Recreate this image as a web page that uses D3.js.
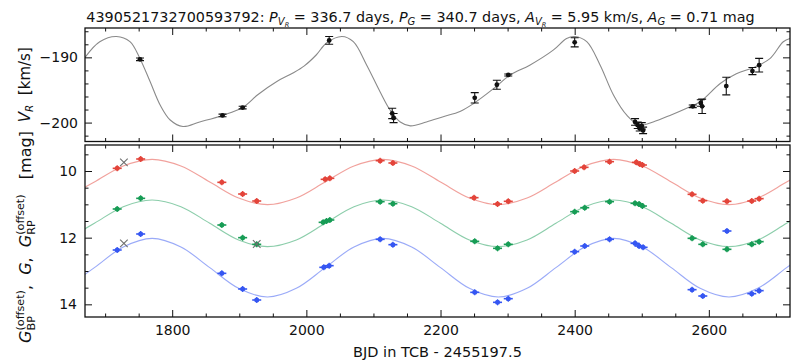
<!DOCTYPE html>
<html>
<head>
<meta charset="utf-8">
<script src="https://cdn.jsdelivr.net/npm/d3@7"></script>
<style>
  html, body { margin: 0; padding: 0; background: #fff; }
  svg { display: block; font-family: "DejaVu Sans", sans-serif; }
  text { white-space: pre; fill: #111; }
</style>
</head>
<body>
<svg id="chart" width="791" height="363"></svg>
<script>
// ---- Radial velocity epochs (BJD in TCB - 2455197.5), values and errors [km/s]
const vrTime = [1752, 1875, 1905, 2034, 2128, 2130, 2251, 2284, 2301, 2400, 2490, 2494, 2497, 2500, 2502, 2576, 2588, 2590, 2626, 2665, 2675];
const vrValue = [-190.3, -198.9, -197.7, -187.4, -198.6, -199.3, -196.2, -194.2, -192.7, -187.7, -199.9, -200.4, -200.9, -200.5, -201.2, -197.5, -197.0, -197.5, -194.4, -192.1, -191.2];
const vrError = [0.2, 0.2, 0.2, 0.6, 0.8, 0.7, 0.8, 0.7, 0.15, 0.7, 0.5, 0.5, 0.4, 0.5, 0.5, 0.2, 0.5, 1.1, 1.35, 0.55, 1.05];

// ---- Radial velocity model curve
const vrModelTime = [1670, 1692, 1717, 1737, 1752, 1767, 1782, 1797, 1816, 1841, 1875, 1905, 1928, 1956, 1980, 1997, 2015, 2030, 2053, 2070, 2090, 2110, 2125, 2140, 2155, 2179, 2204, 2229, 2249, 2279, 2304, 2333, 2368, 2388, 2400, 2418, 2438, 2458, 2478, 2497, 2517, 2542, 2567, 2587, 2617, 2641, 2666, 2691, 2711, 2721];
const vrModelValue = [-190.0, -187.6, -186.8, -187.6, -190.2, -193.7, -197.3, -199.6, -200.6, -199.9, -198.9, -197.7, -195.7, -193.7, -192.4, -191.3, -189.6, -187.8, -186.8, -187.6, -191.2, -195.3, -198.1, -199.9, -200.5, -199.9, -199.1, -198.3, -197.1, -194.8, -192.7, -191.2, -188.9, -187.1, -186.8, -187.6, -191.2, -195.8, -198.9, -200.4, -199.9, -198.9, -197.8, -196.8, -194.0, -192.5, -191.6, -190.2, -187.6, -187.1];

// ---- Photometry epochs and magnitudes (offset bands)
const rpTime = [1718, 1753, 1874, 1905, 1926, 2028, 2035, 2110, 2129, 2250, 2285, 2301, 2400, 2414, 2452, 2492, 2497, 2501, 2575, 2591, 2627, 2664, 2675];
const rpMag = [9.92, 9.64, 10.34, 10.69, 10.90, 10.25, 10.22, 9.69, 9.76, 10.80, 10.99, 10.91, 10.00, 9.89, 9.72, 9.74, 9.79, 9.82, 10.70, 10.89, 10.91, 10.90, 10.83];
const gTime = [1718, 1753, 1874, 1905, 1926, 2025, 2030, 2035, 2110, 2129, 2251, 2285, 2301, 2400, 2415, 2452, 2490, 2496, 2501, 2575, 2591, 2627, 2664, 2675];
const gMag = [11.14, 10.82, 11.62, 12.00, 12.20, 11.54, 11.50, 11.47, 10.92, 10.98, 12.11, 12.32, 12.20, 11.22, 11.10, 10.92, 10.97, 10.99, 11.05, 12.02, 12.20, 12.35, 12.20, 12.12];
const bpTime = [1718, 1753, 1874, 1905, 1926, 2026, 2034, 2110, 2129, 2251, 2285, 2301, 2400, 2415, 2452, 2490, 2496, 2502, 2575, 2591, 2627, 2664, 2675];
const bpMag = [12.37, 11.89, 13.07, 13.54, 13.87, 12.89, 12.84, 12.05, 12.21, 13.64, 13.94, 13.83, 12.42, 12.25, 12.05, 12.17, 12.25, 12.29, 13.56, 13.75, 11.80, 13.68, 13.59];

// rejected photometric epochs
const rejTime = [1728, 1728, 1926];
const rejMag = [9.74, 12.17, 12.19];

// ---- Photometric model curves (knots)
const photModelTime = [1641, 1684, 1727, 1770, 1813, 1856, 1899, 1942, 1985, 2028, 2071, 2114, 2157, 2200, 2243, 2286, 2329, 2372, 2415, 2458, 2501, 2544, 2587, 2630, 2673, 2716, 2759];
const rpModel = [10.81, 10.33, 9.85, 9.65, 9.85, 10.33, 10.81, 11.01, 10.81, 10.33, 9.85, 9.65, 9.85, 10.33, 10.81, 11.01, 10.81, 10.33, 9.85, 9.65, 9.85, 10.33, 10.81, 11.01, 10.81, 10.33, 9.85];
const gModel = [12.07, 11.57, 11.07, 10.87, 11.07, 11.57, 12.07, 12.27, 12.07, 11.57, 11.07, 10.87, 11.07, 11.57, 12.07, 12.27, 12.07, 11.57, 11.07, 10.87, 11.07, 11.57, 12.07, 12.27, 12.07, 11.57, 11.07];
const bpModel = [13.52, 12.90, 12.28, 12.02, 12.28, 12.90, 13.52, 13.78, 13.52, 12.90, 12.28, 12.02, 12.28, 12.90, 13.52, 13.78, 13.52, 12.90, 12.28, 12.02, 12.28, 12.90, 13.52, 13.78, 13.52, 12.90, 12.28];

// ---- Tick labels
const xTicks = [1800, 2000, 2200, 2400, 2600];
const vrTicks = [-200, -190];
const magTicks = [10, 12, 14];

// ---- Layout
const W = 791, H = 363;
const left = 85, right = 790;
const top1 = 28, bot1 = 141.5;
const top2 = 145, bot2 = 317;

const svg = d3.select("#chart");

const x = d3.scaleLinear().domain([1670, 2721]).range([left, right]);
const yV = d3.scaleLinear().domain([-202.9, -185.5]).range([bot1, top1]);
const yM = d3.scaleLinear().domain([9.22, 14.38]).range([top2, bot2]);

const defs = svg.append("defs");
defs.append("clipPath").attr("id", "clipTop").append("rect")
  .attr("x", left).attr("y", top1).attr("width", right - left).attr("height", bot1 - top1);
defs.append("clipPath").attr("id", "clipBot").append("rect")
  .attr("x", left).attr("y", top2).attr("width", right - left).attr("height", bot2 - top2);

// math-style text laid out piece by piece (sub/superscripts, stacked scripts)
function mathText(parent, pieces, fs, px, py, rot) {
  const g = parent.append("g")
    .attr("transform", `translate(${px},${py})` + (rot ? ` rotate(${rot})` : ""));
  let cx = 0;
  const items = [];
  pieces.forEach(p => {
    const grp = Array.isArray(p) ? p : [p];
    let w = 0;
    grp.forEach(q => {
      const t = g.append("text")
        .attr("x", cx)
        .attr("y", (q.dy || 0) * fs)
        .attr("font-size", fs * (q.s || 1))
        .attr("font-style", q.i ? "italic" : "normal")
        .text(q.t);
      w = Math.max(w, t.node().getComputedTextLength());
      items.push(t);
    });
    cx += w;
  });
  items.forEach(t => t.attr("x", +t.attr("x") - cx / 2));
  return { g, width: cx };
}

// ---- Title
const titlePieces = [
  { t: "4390521732700593792: " }, { t: "P", i: 1 }, { t: "V", i: 1, s: 0.7, dy: 0.22 }, { t: "R", i: 1, s: 0.45, dy: 0.36 },
  { t: " = 336.7 days, " }, { t: "P", i: 1 }, { t: "G", i: 1, s: 0.7, dy: 0.22 },
  { t: " = 340.7 days, " }, { t: "A", i: 1 }, { t: "V", i: 1, s: 0.7, dy: 0.22 }, { t: "R", i: 1, s: 0.45, dy: 0.36 },
  { t: " = 5.95 km/s, " }, { t: "A", i: 1 }, { t: "G", i: 1, s: 0.7, dy: 0.22 }, { t: " = 0.71 mag" }
];
let tt = mathText(svg, titlePieces, 15, 420.5, 22);
const titleFs = 15 * 669 / tt.width;
tt.g.remove();
mathText(svg, titlePieces, titleFs, 420.5, 22);

// ---- Axis frames
function frame(yScale, yMajor, yMinorVals, yFmt, yPad, y0, y1, withXLabels) {
  const g = svg.append("g");
  const xMinor = d3.range(1700, 2721, 50).filter(v => !xTicks.includes(v));
  const yMinorOnly = yMinorVals.filter(v => !yMajor.includes(v));
  const style = a => {
    a.select(".domain").remove();
    a.selectAll(".tick line").attr("stroke", "#111").attr("stroke-width", 1);
    a.selectAll(".tick text").attr("font-size", 14).attr("font-family", "DejaVu Sans").attr("fill", "#111");
  };
  // bottom
  g.append("g").attr("transform", `translate(0,${y1})`)
    .call(d3.axisBottom(x).tickValues(xTicks).tickSize(-7).tickPadding(8)
      .tickFormat(withXLabels ? d3.format("d") : () => "")).call(style);
  g.append("g").attr("transform", `translate(0,${y1})`)
    .call(d3.axisBottom(x).tickValues(xMinor).tickSize(-3.5).tickFormat(() => "")).call(style);
  // top
  g.append("g").attr("transform", `translate(0,${y0})`)
    .call(d3.axisTop(x).tickValues(xTicks).tickSize(-7).tickFormat(() => "")).call(style);
  g.append("g").attr("transform", `translate(0,${y0})`)
    .call(d3.axisTop(x).tickValues(xMinor).tickSize(-3.5).tickFormat(() => "")).call(style);
  // left
  g.append("g").attr("transform", `translate(${left},0)`)
    .call(d3.axisLeft(yScale).tickValues(yMajor).tickSize(-7).tickPadding(yPad).tickFormat(yFmt)).call(style);
  g.append("g").attr("transform", `translate(${left},0)`)
    .call(d3.axisLeft(yScale).tickValues(yMinorOnly).tickSize(-3.5).tickFormat(() => "")).call(style);
  // right
  g.append("g").attr("transform", `translate(${right},0)`)
    .call(d3.axisRight(yScale).tickValues(yMajor).tickSize(-7).tickFormat(() => "")).call(style);
  g.append("g").attr("transform", `translate(${right},0)`)
    .call(d3.axisRight(yScale).tickValues(yMinorOnly).tickSize(-3.5).tickFormat(() => "")).call(style);
  // border
  g.append("rect").attr("x", left).attr("y", y0).attr("width", right - left).attr("height", y1 - y0)
    .attr("fill", "none").attr("stroke", "#111").attr("stroke-width", 1.3);
}

// ---- Top panel: radial velocity
const pTop = svg.append("g").attr("clip-path", "url(#clipTop)");
const vrLine = d3.line().x(d => x(d[0])).y(d => yV(d[1])).curve(d3.curveCatmullRom.alpha(0.5));
pTop.append("path")
  .datum(vrModelTime.map((t, i) => [t, vrModelValue[i]]))
  .attr("d", vrLine).attr("fill", "none").attr("stroke", "#8a8a8a").attr("stroke-width", 1.1);

const vrData = vrTime.map((t, i) => ({ t, v: vrValue[i], e: vrError[i] }));
const eb = pTop.selectAll("g.vr").data(vrData).join("g").attr("class", "vr");
eb.append("line")
  .attr("x1", d => x(d.t)).attr("x2", d => x(d.t))
  .attr("y1", d => yV(d.v - d.e)).attr("y2", d => yV(d.v + d.e))
  .attr("stroke", "#111").attr("stroke-width", 1.1);
["-", "+"].forEach(sgn => {
  eb.append("line")
    .attr("x1", d => x(d.t) - 4).attr("x2", d => x(d.t) + 4)
    .attr("y1", d => yV(sgn === "-" ? d.v - d.e : d.v + d.e))
    .attr("y2", d => yV(sgn === "-" ? d.v - d.e : d.v + d.e))
    .attr("stroke", "#111").attr("stroke-width", 1.1);
});
eb.append("circle").attr("cx", d => x(d.t)).attr("cy", d => yV(d.v)).attr("r", 2.4).attr("fill", "#111");

frame(yV, vrTicks, d3.range(-202, -185, 2), d3.format("d"), 7, top1, bot1, false);

// ---- Bottom panel: photometry
const pBot = svg.append("g").attr("clip-path", "url(#clipBot)");
const magLine = d3.line().x(d => x(d[0])).y(d => yM(d[1])).curve(d3.curveCatmullRom.alpha(0.5));
const bands = [
  { times: rpTime, mags: rpMag, model: rpModel, color: "#e3443a" },
  { times: gTime, mags: gMag, model: gModel, color: "#179c55" },
  { times: bpTime, mags: bpMag, model: bpModel, color: "#3556f2" }
];
bands.forEach(b => {
  pBot.append("path")
    .datum(photModelTime.map((t, i) => [t, b.model[i]]))
    .attr("d", magLine).attr("fill", "none")
    .attr("stroke", b.color).attr("stroke-opacity", 0.5).attr("stroke-width", 1.1);
});
bands.forEach(b => {
  const pts = b.times.map((t, i) => ({ t, m: b.mags[i] }));
  const gp = pBot.append("g").selectAll("g").data(pts).join("g");
  gp.append("line")
    .attr("x1", d => x(d.t) - 4.5).attr("x2", d => x(d.t) + 4.5)
    .attr("y1", d => yM(d.m)).attr("y2", d => yM(d.m))
    .attr("stroke", b.color).attr("stroke-width", 1.6);
  gp.append("line")
    .attr("x1", d => x(d.t)).attr("x2", d => x(d.t))
    .attr("y1", d => yM(d.m) - 3).attr("y2", d => yM(d.m) + 3)
    .attr("stroke", b.color).attr("stroke-width", 1.2);
  gp.append("circle").attr("cx", d => x(d.t)).attr("cy", d => yM(d.m)).attr("r", 2.5).attr("fill", b.color);
});
// rejected points
const rej = rejTime.map((t, i) => ({ t, m: rejMag[i] }));
const rx = pBot.append("g").selectAll("g").data(rej).join("g");
[[-1, -1, 1, 1], [-1, 1, 1, -1]].forEach(([a, b, c, d2]) => {
  rx.append("line")
    .attr("x1", d => x(d.t) + a * 3.8).attr("y1", d => yM(d.m) + b * 3.8)
    .attr("x2", d => x(d.t) + c * 3.8).attr("y2", d => yM(d.m) + d2 * 3.8)
    .attr("stroke", "#6e6e6e").attr("stroke-width", 1.1);
});

frame(yM, magTicks, d3.range(9.5, 14.01, 0.5), d3.format("d"), 8, top2, bot2, true);

// ---- Axis labels
svg.append("text").attr("x", (left + right) / 2).attr("y", 357)
  .attr("text-anchor", "middle").attr("font-size", 14.5).text("BJD in TCB - 2455197.5");

mathText(svg, [{ t: "V", i: 1 }, { t: "R", i: 1, s: 0.7, dy: 0.22 }, { t: "  [km/s]" }], 15, 30, (top1 + bot1) / 2, -90);

mathText(svg, [
  { t: "G", i: 1 }, [{ t: "(offset)", s: 0.7, dy: -0.45 }, { t: "BP", s: 0.7, dy: 0.25 }],
  { t: ",  " }, { t: "G", i: 1 }, { t: ",  " },
  { t: "G", i: 1 }, [{ t: "(offset)", s: 0.7, dy: -0.45 }, { t: "RP", s: 0.7, dy: 0.25 }],
  { t: "   [mag]" }
], 16, 31, (top2 + bot2) / 2 + 6, -90);
</script>
</body>
</html>
